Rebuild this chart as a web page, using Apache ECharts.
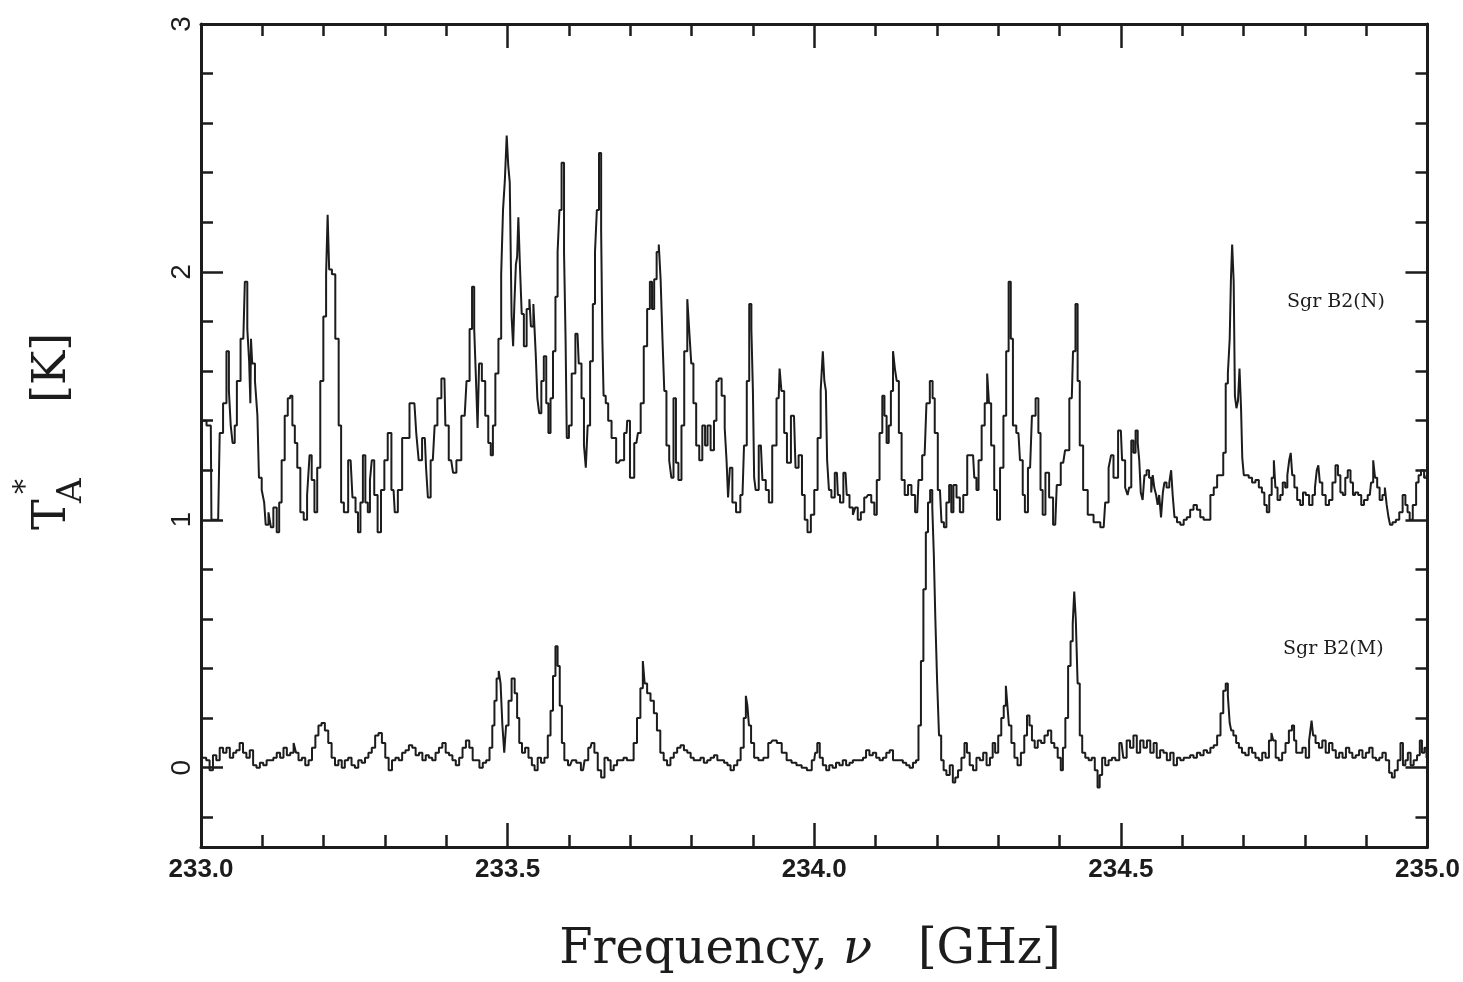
<!DOCTYPE html>
<html>
<head>
<meta charset="utf-8">
<script src="https://cdn.jsdelivr.net/npm/echarts@6/dist/echarts.min.js"></script>
<style>
  html, body { margin: 0; padding: 0; background: #ffffff; }
  #chart { width: 1463px; height: 982px; }
</style>
</head>
<body>
<div id="chart"></div>
<script>
// Sgr B2(N) spectrum: frequency [GHz] and antenna temperature T*A [K] (plotted with +1 K offset)
const sgrNFreq = [
  233.000, 233.002, 233.016, 233.018, 233.028, 233.033, 233.039, 233.044, 233.047, 233.050,
  233.053, 233.057, 233.060, 233.069, 233.074, 233.077, 233.080, 233.081, 233.082, 233.085,
  233.091, 233.093, 233.096, 233.102, 233.104, 233.107, 233.113, 233.115, 233.121, 233.126,
  233.129, 233.134, 233.139, 233.144, 233.147, 233.151, 233.155, 233.159, 233.165, 233.170,
  233.176, 233.178, 233.183, 233.187, 233.192, 233.197, 233.202, 233.206, 233.207, 233.211,
  233.216, 233.222, 233.227, 233.230, 233.236, 233.244, 233.250, 233.254, 233.258, 233.262,
  233.266, 233.270, 233.274, 233.277, 233.280, 233.285, 233.291, 233.296, 233.302, 233.307,
  233.314, 233.318, 233.324, 233.332, 233.348, 233.354, 233.356, 233.365, 233.369, 233.371,
  233.378, 233.384, 233.387, 233.397, 233.400, 233.408, 233.414, 233.419, 233.430, 233.436,
  233.440, 233.444, 233.447, 233.450, 233.452, 233.455, 233.461, 233.466, 233.471, 233.474,
  233.478, 233.482, 233.488, 233.491, 233.494, 233.497, 233.500, 233.502, 233.505, 233.508,
  233.510, 233.512, 233.515, 233.516, 233.519, 233.521, 233.525, 233.528, 233.534, 233.537,
  233.539, 233.545, 233.547, 233.550, 233.553, 233.557, 233.561, 233.565, 233.568, 233.572,
  233.576, 233.580, 233.583, 233.586, 233.590, 233.594, 233.595, 233.598, 233.602, 233.607,
  233.614, 233.618, 233.623, 233.626, 233.629, 233.632, 233.637, 233.641, 233.644, 233.647,
  233.651, 233.654, 233.655, 233.658, 233.662, 233.666, 233.673, 233.681, 233.686, 233.694,
  233.696, 233.703, 233.710, 233.715, 233.719, 233.725, 233.730, 233.734, 233.737, 233.741,
  233.745, 233.748, 233.751, 233.754, 233.757, 233.761, 233.766, 233.768, 233.773, 233.776,
  233.781, 233.786, 233.790, 233.796, 233.798, 233.801, 233.805, 233.810, 233.815, 233.820,
  233.824, 233.828, 233.834, 233.839, 233.842, 233.846, 233.852, 233.856, 233.858, 233.861,
  233.864, 233.869, 233.876, 233.883, 233.888, 233.892, 233.896, 233.899, 233.901, 233.903,
  233.906, 233.913, 233.918, 233.924, 233.928, 233.935, 233.942, 233.945, 233.948, 233.954,
  233.957, 233.967, 233.972, 233.977, 233.983, 233.986, 233.992, 233.997, 234.003, 234.008,
  234.013, 234.015, 234.018, 234.020, 234.022, 234.026, 234.030, 234.037, 234.040, 234.044,
  234.051, 234.055, 234.060, 234.066, 234.068, 234.074, 234.078, 234.085, 234.090, 234.096,
  234.100, 234.104, 234.109, 234.113, 234.116, 234.120, 234.123, 234.127, 234.130, 234.133,
  234.136, 234.140, 234.145, 234.150, 234.156, 234.161, 234.168, 234.172, 234.180, 234.186,
  234.191, 234.195, 234.198, 234.205, 234.210, 234.213, 234.218, 234.222, 234.225, 234.229,
  234.235, 234.240, 234.246, 234.253, 234.259, 234.263, 234.266, 234.270, 234.276, 234.280,
  234.284, 234.286, 234.291, 234.296, 234.300, 234.306, 234.311, 234.315, 234.319, 234.322,
  234.326, 234.333, 234.338, 234.342, 234.345, 234.352, 234.358, 234.364, 234.367, 234.371,
  234.374, 234.380, 234.386, 234.393, 234.398, 234.406, 234.412, 234.420, 234.424, 234.428,
  234.431, 234.435, 234.442, 234.450, 234.461, 234.472, 234.477, 234.483, 234.485, 234.491,
  234.500, 234.504, 234.510, 234.512, 234.515, 234.519, 234.522, 234.526, 234.529, 234.531,
  234.534, 234.537, 234.540, 234.544, 234.548, 234.551, 234.553, 234.556, 234.559, 234.561,
  234.564, 234.567, 234.570, 234.572, 234.577, 234.581, 234.583, 234.586, 234.589, 234.594,
  234.600, 234.605, 234.610, 234.616, 234.621, 234.627, 234.632, 234.638, 234.643, 234.649,
  234.654, 234.660, 234.665, 234.669, 234.673, 234.676, 234.679, 234.680, 234.683, 234.685,
  234.687, 234.690, 234.692, 234.695, 234.697, 234.699, 234.702, 234.706, 234.711, 234.717,
  234.722, 234.728, 234.732, 234.736, 234.740, 234.744, 234.748, 234.751, 234.753, 234.758,
  234.762, 234.766, 234.770, 234.773, 234.776, 234.778, 234.781, 234.785, 234.790, 234.795,
  234.799, 234.804, 234.810, 234.815, 234.818, 234.821, 234.823, 234.826, 234.831, 234.837,
  234.842, 234.848, 234.852, 234.856, 234.860, 234.864, 234.868, 234.872, 234.877, 234.880,
  234.884, 234.890, 234.894, 234.899, 234.906, 234.910, 234.913, 234.916, 234.920, 234.924,
  234.929, 234.932, 234.935, 234.938, 234.940, 234.946, 234.951, 234.957, 234.962, 234.966,
  234.969, 234.973, 234.979, 234.984, 234.987, 234.992, 234.997, 235.000
];
const sgrNTemp = [
  1.00, 1.40, 1.38, 1.00, 1.00, 1.35, 1.47, 1.68, 1.52, 1.38,
  1.31, 1.38, 1.56, 1.73, 1.96, 1.77, 1.64, 1.47, 1.73, 1.63,
  1.56, 1.42, 1.17, 1.12, 1.07, 0.98, 1.03, 0.97, 1.05, 0.95,
  1.07, 1.24, 1.42, 1.49, 1.50, 1.38, 1.31, 1.21, 1.03, 1.00,
  1.10, 1.26, 1.16, 1.03, 1.21, 1.56, 1.82, 1.99, 2.23, 2.01,
  1.99, 1.73, 1.38, 1.07, 1.03, 1.24, 1.09, 1.03, 0.95, 1.07,
  1.26, 1.07, 1.03, 1.16, 1.24, 1.10, 0.95, 1.12, 1.24, 1.35,
  1.12, 1.03, 1.12, 1.33, 1.47, 1.35, 1.24, 1.33, 1.21, 1.09,
  1.24, 1.38, 1.49, 1.57, 1.38, 1.24, 1.19, 1.24, 1.42, 1.56,
  1.77, 1.94, 1.77, 1.56, 1.37, 1.63, 1.56, 1.42, 1.31, 1.26,
  1.38, 1.59, 1.73, 1.99, 2.25, 2.37, 2.55, 2.43, 2.36, 1.82,
  1.70, 1.87, 2.03, 2.06, 2.22, 2.03, 1.83, 1.70, 1.85, 1.89,
  1.78, 1.87, 1.66, 1.49, 1.43, 1.56, 1.66, 1.47, 1.35, 1.49,
  1.68, 1.90, 2.08, 2.25, 2.44, 2.08, 1.73, 1.33, 1.38, 1.59,
  1.75, 1.63, 1.49, 1.30, 1.21, 1.38, 1.64, 1.87, 2.08, 2.25,
  2.48, 2.17, 1.73, 1.50, 1.47, 1.40, 1.33, 1.23, 1.24, 1.35,
  1.40, 1.17, 1.31, 1.35, 1.47, 1.70, 1.85, 1.96, 1.85, 1.97,
  2.08, 2.11, 1.97, 1.73, 1.52, 1.30, 1.24, 1.17, 1.49, 1.23,
  1.16, 1.38, 1.68, 1.89, 1.73, 1.63, 1.47, 1.30, 1.24, 1.38,
  1.30, 1.38, 1.28, 1.40, 1.56, 1.57, 1.50, 1.37, 1.24, 1.09,
  1.21, 1.07, 1.03, 1.10, 1.30, 1.56, 1.87, 1.77, 1.52, 1.17,
  1.12, 1.30, 1.16, 1.12, 1.07, 1.30, 1.49, 1.61, 1.52, 1.35,
  1.23, 1.42, 1.21, 1.26, 1.10, 1.00, 0.95, 1.02, 1.12, 1.33,
  1.52, 1.68, 1.56, 1.52, 1.24, 1.12, 1.09, 1.19, 1.10, 1.07,
  1.19, 1.10, 1.05, 1.02, 1.05, 1.00, 1.03, 1.09, 1.10, 1.07,
  1.02, 1.16, 1.35, 1.50, 1.42, 1.31, 1.38, 1.52, 1.68, 1.61,
  1.56, 1.35, 1.16, 1.10, 1.14, 1.10, 1.03, 1.16, 1.26, 1.47,
  1.56, 1.49, 1.35, 1.12, 0.99, 0.97, 1.07, 1.14, 1.03, 1.14,
  1.09, 1.03, 1.10, 1.26, 1.26, 1.17, 1.12, 1.24, 1.38, 1.47,
  1.59, 1.47, 1.30, 1.12, 1.00, 1.21, 1.42, 1.68, 1.96, 1.73,
  1.38, 1.35, 1.24, 1.10, 1.03, 1.21, 1.42, 1.49, 1.35, 1.12,
  1.02, 1.19, 1.09, 0.98, 1.14, 1.23, 1.28, 1.49, 1.68, 1.87,
  1.56, 1.30, 1.12, 1.02, 0.99, 0.97, 1.07, 1.21, 1.26, 1.17,
  1.36, 1.24, 1.13, 1.10, 1.13, 1.32, 1.27, 1.36, 1.31, 1.24,
  1.11, 1.08, 1.18, 1.20, 1.17, 1.11, 1.18, 1.13, 1.10, 1.06,
  1.10, 1.01, 1.11, 1.15, 1.13, 1.15, 1.20, 1.10, 1.01, 0.99,
  0.98, 1.00, 1.01, 1.04, 1.06, 1.04, 1.01, 1.00, 1.00, 1.10,
  1.13, 1.18, 1.18, 1.27, 1.55, 1.59, 1.73, 1.97, 2.11, 1.96,
  1.50, 1.45, 1.48, 1.61, 1.45, 1.25, 1.18, 1.18, 1.17, 1.15,
  1.16, 1.13, 1.11, 1.06, 1.03, 1.10, 1.17, 1.24, 1.13, 1.08,
  1.10, 1.15, 1.13, 1.18, 1.24, 1.27, 1.18, 1.13, 1.08, 1.06,
  1.11, 1.10, 1.06, 1.10, 1.13, 1.20, 1.22, 1.15, 1.10, 1.06,
  1.08, 1.15, 1.22, 1.18, 1.11, 1.10, 1.17, 1.20, 1.15, 1.10,
  1.11, 1.10, 1.06, 1.08, 1.10, 1.15, 1.24, 1.17, 1.13, 1.08,
  1.10, 1.13, 1.06, 1.01, 0.98, 0.99, 1.00, 1.03, 1.10, 1.06,
  1.03, 1.00, 1.06, 1.15, 1.18, 1.20, 1.17, 1.18
];

// Sgr B2(M) spectrum: frequency [GHz] and antenna temperature T*A [K]
const sgrMFreq = [
  233.000, 233.006, 233.011, 233.017, 233.022, 233.028, 233.033, 233.039, 233.044, 233.050,
  233.055, 233.060, 233.066, 233.071, 233.077, 233.082, 233.088, 233.093, 233.099, 233.104,
  233.110, 233.115, 233.121, 233.126, 233.132, 233.137, 233.143, 233.148, 233.154, 233.156,
  233.162, 233.167, 233.173, 233.178, 233.184, 233.189, 233.194, 233.199, 233.205, 233.210,
  233.216, 233.221, 233.227, 233.232, 233.237, 233.243, 233.248, 233.254, 233.259, 233.265,
  233.270, 233.276, 233.281, 233.287, 233.292, 233.298, 233.303, 233.309, 233.314, 233.320,
  233.325, 233.331, 233.336, 233.342, 233.347, 233.353, 233.358, 233.364, 233.369, 233.374,
  233.380, 233.385, 233.391, 233.396, 233.402, 233.407, 233.413, 233.418, 233.424, 233.429,
  233.435, 233.440, 233.446, 233.451, 233.457, 233.462, 233.468, 233.473, 233.477, 233.480,
  233.484, 233.487, 233.490, 233.493, 233.496, 233.499, 233.504, 233.509, 233.514, 233.517,
  233.521, 233.526, 233.531, 233.537, 233.542, 233.546, 233.552, 233.557, 233.563, 233.568,
  233.572, 233.576, 233.580, 233.583, 233.587, 233.590, 233.595, 233.602, 233.608, 233.616,
  233.623, 233.628, 233.635, 233.639, 233.644, 233.650, 233.655, 233.661, 233.666, 233.670,
  233.676, 233.681, 233.686, 233.692, 233.697, 233.703, 233.708, 233.714, 233.719, 233.722,
  233.725, 233.730, 233.736, 233.741, 233.746, 233.752, 233.757, 233.763, 233.768, 233.774,
  233.779, 233.785, 233.790, 233.796, 233.801, 233.806, 233.812, 233.817, 233.823, 233.828,
  233.834, 233.839, 233.845, 233.850, 233.856, 233.861, 233.866, 233.872, 233.877, 233.883,
  233.887, 233.890, 233.892, 233.895, 233.899, 233.905, 233.913, 233.921, 233.929, 233.935,
  233.943, 233.951, 233.959, 233.967, 233.975, 233.984, 233.992, 234.000, 234.003, 234.007,
  234.011, 234.017, 234.022, 234.027, 234.033, 234.038, 234.044, 234.049, 234.055, 234.060,
  234.066, 234.071, 234.077, 234.082, 234.087, 234.093, 234.098, 234.104, 234.109, 234.115,
  234.120, 234.126, 234.131, 234.136, 234.142, 234.147, 234.153, 234.158, 234.164, 234.168,
  234.172, 234.176, 234.180, 234.184, 234.187, 234.191, 234.194, 234.196, 234.199, 234.202,
  234.205, 234.209, 234.213, 234.218, 234.224, 234.228, 234.232, 234.237, 234.243, 234.247,
  234.251, 234.256, 234.262, 234.267, 234.273, 234.278, 234.284, 234.289, 234.293, 234.297,
  234.303, 234.307, 234.311, 234.314, 234.316, 234.319, 234.324, 234.329, 234.334, 234.340,
  234.345, 234.349, 234.353, 234.357, 234.362, 234.367, 234.373, 234.378, 234.384, 234.389,
  234.394, 234.400, 234.404, 234.407, 234.412, 234.416, 234.420, 234.423, 234.425, 234.428,
  234.431, 234.435, 234.439, 234.445, 234.450, 234.455, 234.460, 234.464, 234.467, 234.472,
  234.477, 234.483, 234.488, 234.494, 234.501, 234.507, 234.512, 234.518, 234.523, 234.529,
  234.534, 234.540, 234.545, 234.551, 234.556, 234.561, 234.567, 234.572, 234.578, 234.583,
  234.589, 234.594, 234.600, 234.605, 234.610, 234.616, 234.621, 234.627, 234.632, 234.638,
  234.643, 234.649, 234.654, 234.660, 234.665, 234.669, 234.673, 234.676, 234.679, 234.681,
  234.686, 234.690, 234.695, 234.700, 234.706, 234.711, 234.717, 234.722, 234.728, 234.733,
  234.739, 234.744, 234.747, 234.750, 234.755, 234.760, 234.766, 234.771, 234.777, 234.781,
  234.784, 234.788, 234.793, 234.799, 234.804, 234.810, 234.812, 234.815, 234.820, 234.826,
  234.831, 234.837, 234.842, 234.848, 234.853, 234.859, 234.864, 234.870, 234.875, 234.880,
  234.886, 234.891, 234.897, 234.902, 234.908, 234.913, 234.919, 234.924, 234.929, 234.935,
  234.940, 234.944, 234.949, 234.954, 234.958, 234.962, 234.966, 234.970, 234.975, 234.980,
  234.986, 234.989, 234.993, 234.997, 235.000
];
const sgrMTemp = [
  0.03, 0.04, 0.03, -0.01, 0.05, 0.03, 0.08, 0.06, 0.08, 0.04,
  0.06, 0.07, 0.10, 0.06, 0.04, 0.07, 0.01, 0.00, 0.02, 0.01,
  0.03, 0.03, 0.04, 0.06, 0.04, 0.08, 0.05, 0.06, 0.10, 0.06,
  0.03, 0.04, 0.01, 0.03, 0.08, 0.13, 0.17, 0.18, 0.15, 0.10,
  0.04, 0.01, 0.03, 0.00, 0.03, 0.04, 0.01, 0.00, 0.03, 0.02,
  0.04, 0.06, 0.08, 0.13, 0.14, 0.10, 0.04, -0.01, 0.03, 0.04,
  0.03, 0.06, 0.07, 0.09, 0.08, 0.05, 0.06, 0.03, 0.05, 0.04,
  0.03, 0.06, 0.08, 0.10, 0.06, 0.05, 0.03, 0.01, 0.04, 0.08,
  0.11, 0.08, 0.03, 0.03, 0.00, 0.02, 0.03, 0.08, 0.17, 0.27,
  0.36, 0.39, 0.34, 0.17, 0.06, 0.17, 0.27, 0.36, 0.30, 0.20,
  0.10, 0.06, 0.08, 0.04, 0.01, -0.01, 0.04, 0.02, 0.04, 0.13,
  0.23, 0.37, 0.49, 0.41, 0.25, 0.10, 0.03, 0.01, 0.03, 0.02,
  -0.01, 0.03, 0.08, 0.10, 0.06, -0.01, -0.04, 0.04, 0.03, -0.01,
  0.01, 0.03, 0.03, 0.04, 0.03, 0.03, 0.10, 0.20, 0.32, 0.43,
  0.34, 0.30, 0.27, 0.22, 0.15, 0.06, 0.03, 0.01, 0.04, 0.06,
  0.08, 0.09, 0.07, 0.06, 0.04, 0.03, 0.03, 0.04, 0.02, 0.03,
  0.04, 0.05, 0.03, 0.03, 0.02, 0.01, -0.01, 0.01, 0.03, 0.08,
  0.20, 0.29, 0.25, 0.17, 0.10, 0.04, 0.03, 0.04, 0.10, 0.11,
  0.10, 0.06, 0.03, 0.02, 0.01, 0.00, -0.01, 0.03, 0.06, 0.10,
  0.04, 0.01, -0.01, 0.01, 0.00, 0.02, 0.01, 0.03, 0.01, 0.02,
  0.03, 0.03, 0.03, 0.04, 0.07, 0.05, 0.06, 0.04, 0.03, 0.04,
  0.06, 0.07, 0.03, 0.03, 0.03, 0.02, 0.01, 0.00, 0.02, 0.03,
  0.17, 0.43, 0.72, 0.95, 1.07, 1.12, 1.05, 0.86, 0.60, 0.34,
  0.13, 0.03, -0.01, -0.03, 0.01, -0.06, -0.04, -0.01, 0.04, 0.10,
  0.06, 0.01, -0.01, 0.04, 0.03, 0.06, 0.01, 0.04, 0.10, 0.06,
  0.13, 0.20, 0.25, 0.33, 0.25, 0.17, 0.10, 0.04, 0.01, 0.06,
  0.13, 0.21, 0.17, 0.11, 0.08, 0.11, 0.10, 0.13, 0.15, 0.10,
  0.08, 0.04, -0.01, 0.08, 0.20, 0.41, 0.51, 0.58, 0.71, 0.60,
  0.34, 0.13, 0.06, 0.04, 0.03, 0.04, -0.01, -0.08, -0.03, 0.04,
  0.01, 0.03, 0.04, 0.03, 0.10, 0.04, 0.11, 0.08, 0.13, 0.06,
  0.11, 0.08, 0.11, 0.06, 0.10, 0.04, 0.07, 0.06, 0.03, 0.06,
  0.01, 0.04, 0.03, 0.04, 0.04, 0.05, 0.04, 0.06, 0.05, 0.07,
  0.06, 0.08, 0.09, 0.13, 0.22, 0.31, 0.34, 0.29, 0.18, 0.15,
  0.13, 0.10, 0.08, 0.06, 0.05, 0.08, 0.06, 0.04, 0.03, 0.06,
  0.04, 0.11, 0.14, 0.11, 0.04, 0.03, 0.06, 0.10, 0.15, 0.17,
  0.11, 0.06, 0.06, 0.08, 0.04, 0.11, 0.19, 0.13, 0.10, 0.08,
  0.11, 0.06, 0.10, 0.07, 0.04, 0.06, 0.04, 0.08, 0.06, 0.04,
  0.05, 0.07, 0.04, 0.06, 0.08, 0.04, 0.03, 0.04, 0.06, 0.03,
  -0.02, -0.04, -0.01, 0.03, 0.10, 0.01, 0.03, 0.06, 0.01, 0.03,
  0.05, 0.11, 0.06, 0.08, 0.04
];

// Integer temperatures that carry a label on the vertical axis
const tempLabelValues = [0, 1, 2, 3];

const INK = '#1c1c1c';
const toPoints = (freq, temp) => freq.map((f, i) => [f, temp[i]]);

function freqAxis(position, showLabels) {
  return {
    type: 'value',
    position: position,
    min: 233,
    max: 235,
    interval: 0.5,
    axisLine: { show: true, onZero: false, lineStyle: { color: INK, width: 3 } },
    axisTick: { show: true, inside: true, length: 24, lineStyle: { color: INK, width: 2.5 } },
    minorTick: { show: true, splitNumber: 5, length: 12, lineStyle: { color: INK, width: 2.5 } },
    axisLabel: {
      show: showLabels,
      margin: 10,
      color: INK,
      fontFamily: 'Liberation Sans',
      fontWeight: 'bold',
      fontSize: 26,
      formatter: v => v.toFixed(1)
    },
    splitLine: { show: false },
    minorSplitLine: { show: false }
  };
}

function tempAxis(position, showLabels) {
  return {
    type: 'value',
    position: position,
    min: -0.32,
    max: 3,
    splitNumber: 3,
    axisLine: { show: true, onZero: false, lineStyle: { color: INK, width: 3 } },
    axisTick: { show: true, inside: true, length: 22, lineStyle: { color: INK, width: 2.5 } },
    minorTick: { show: true, splitNumber: 5, length: 12, lineStyle: { color: INK, width: 2.5 } },
    axisLabel: {
      show: showLabels,
      rotate: 90,
      margin: 5,
      color: INK,
      fontFamily: 'Liberation Sans',
      fontSize: 28,
      formatter: v => {
        const r = Math.round(v);
        return (Math.abs(v - r) < 1e-6 && tempLabelValues.includes(r)) ? String(r) : '';
      }
    },
    splitLine: { show: false },
    minorSplitLine: { show: false }
  };
}

function spectrum(name, freq, temp) {
  return {
    type: 'line',
    name: name,
    data: toPoints(freq, temp),
    step: 'middle',
    showSymbol: false,
    silent: true,
    clip: true,
    lineStyle: { color: INK, width: 2 },
    z: 3
  };
}

const chart = echarts.init(document.getElementById('chart'), null, { renderer: 'canvas' });

chart.setOption({
  animation: false,
  backgroundColor: '#ffffff',
  grid: { left: 201, right: 32, top: 24, bottom: 135 },
  xAxis: [freqAxis('bottom', true), freqAxis('top', false)],
  yAxis: [tempAxis('left', true), tempAxis('right', false)],
  series: [
    spectrum('Sgr B2(N)', sgrNFreq, sgrNTemp),
    spectrum('Sgr B2(M)', sgrMFreq, sgrMTemp)
  ],
  graphic: [
    {
      type: 'text',
      x: 810, y: 951,
      style: {
        text: '{a|Frequency, }{b|\u03bd}{a|   [GHz]}',
        textAlign: 'center', align: 'center',
        textVerticalAlign: 'middle', verticalAlign: 'middle',
        fill: INK,
        rich: {
          a: { fontFamily: 'DejaVu Serif', fontSize: 48, fill: INK, color: INK },
          b: { fontFamily: 'DejaVu Serif', fontStyle: 'italic', fontSize: 48, fill: INK, color: INK }
        }
      }
    },
    {
      type: 'group',
      x: 67, y: 530,
      rotation: Math.PI / 2,
      children: [
        { type: 'text', x: 0, y: -14,
          style: { text: 'T', font: '46px "DejaVu Serif"', fill: INK,
                   textAlign: 'left', align: 'left', textVerticalAlign: 'middle', verticalAlign: 'middle' } },
        { type: 'text', x: 27, y: 5,
          style: { text: 'A', font: '34px "DejaVu Serif"', fill: INK,
                   textAlign: 'left', align: 'left', textVerticalAlign: 'middle', verticalAlign: 'middle' } },
        { type: 'text', x: 36, y: -41,
          style: { text: '*', font: '30px "DejaVu Serif"', fill: INK,
                   textAlign: 'left', align: 'left', textVerticalAlign: 'middle', verticalAlign: 'middle' } },
        { type: 'text', x: 127, y: -14,
          style: { text: '[K]', font: '46px "DejaVu Serif"', fill: INK,
                   textAlign: 'left', align: 'left', textVerticalAlign: 'middle', verticalAlign: 'middle' } }
      ]
    },
    {
      type: 'text',
      x: 1287, y: 302,
      style: { text: 'Sgr B2(N)', font: '19px "DejaVu Serif"', fill: INK,
               textAlign: 'left', align: 'left', textVerticalAlign: 'middle', verticalAlign: 'middle' }
    },
    {
      type: 'text',
      x: 1283, y: 649,
      style: { text: 'Sgr B2(M)', font: '19px "DejaVu Serif"', fill: INK,
               textAlign: 'left', align: 'left', textVerticalAlign: 'middle', verticalAlign: 'middle' }
    }
  ]
});
</script>
</body>
</html>
